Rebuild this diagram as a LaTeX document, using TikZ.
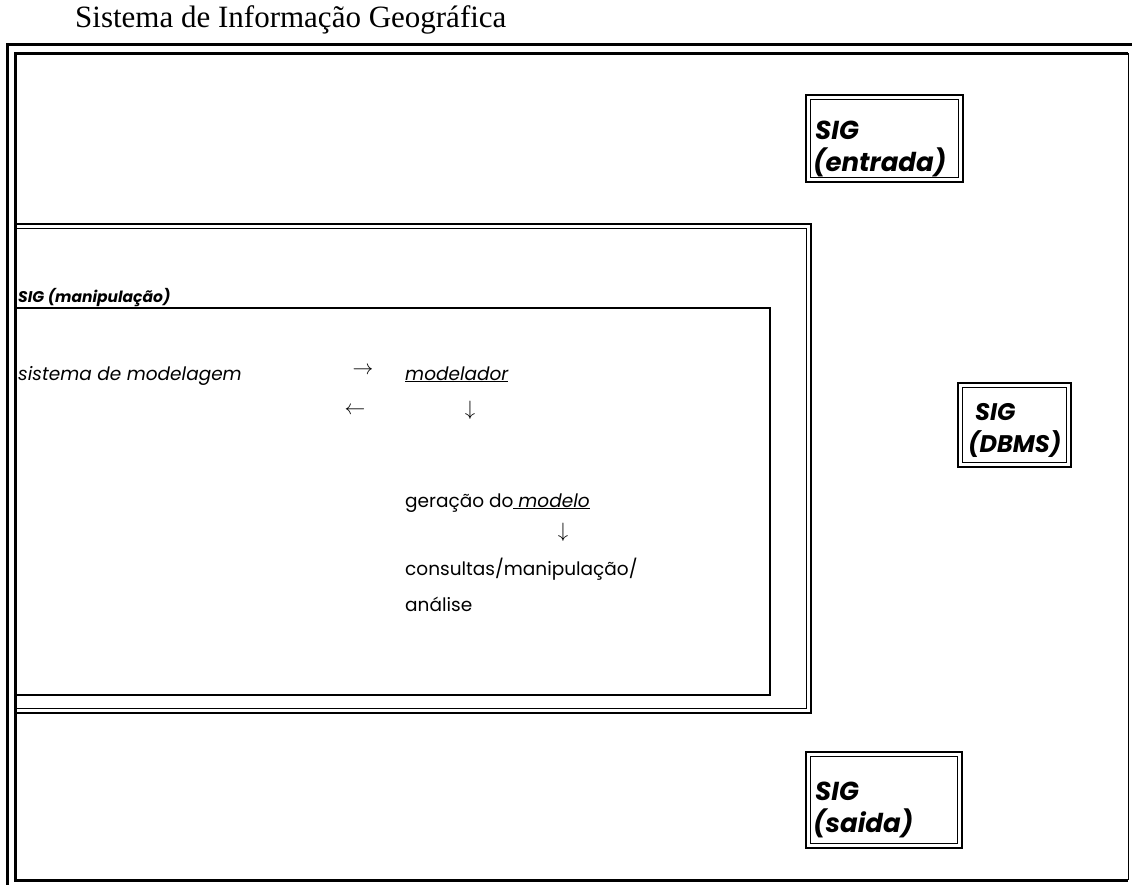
\documentclass[tikz,border=0pt]{standalone}
\usepackage{fontspec}
\setmainfont{Liberation Serif}
\setsansfont{Poppins}
\begin{document}
\begin{tikzpicture}[x=1pt,y=-1pt,
  txt/.style={inner sep=0pt,anchor=base west,font=\sffamily\fontsize{18.5}{22}\selectfont},
  itxt/.style={txt,font=\sffamily\itshape\fontsize{18.5}{22}\selectfont},
  lbl/.style={inner sep=0pt,anchor=base west,font=\sffamily\bfseries\itshape\fontsize{15.5}{18}\selectfont},
  boxlbl/.style={inner sep=0pt,anchor=base west,font=\sffamily\bfseries\itshape\fontsize{26}{30}\selectfont},
  arr/.style={inner sep=0pt,anchor=center,font=\fontsize{22}{26}\selectfont},
  thickline/.style={line width=3pt},
  outerline/.style={line width=2pt},
  innerline/.style={line width=1pt},
]
\useasboundingbox (0,0) rectangle (1132,885);

% title
\node[inner sep=0pt,anchor=base west,font=\fontsize{31}{36}\selectfont] (title) at (75,28) {Sistema de Informação Geográfica};

% outer double frame
\draw[thickline] (7.5,885) -- (7.5,45) -- (1132,45);
\draw[thickline] (1128,53.5) -- (15,53.5) -- (15,880) -- (1128,880);
\draw[line width=1.5pt] (1128.5,53.5) -- (1128.5,880);

% manipulation block: double frame
\draw[outerline] (15,224) -- (811,224) -- (811,713) -- (15,713);
\draw[innerline] (15,229) -- (806,229) -- (806,708) -- (15,708);
\node[lbl] (manip) at (18,302) {SIG (manipulação)};

% modelling system box
\draw[line width=1.5pt] (15,308) -- (770,308) -- (770,695) -- (15,695);

\node[itxt] (sismod) at (18,380) {sistema de modelagem};
\node[arr] (a1) at (363,371) {$\rightarrow$};
\node[itxt] (modelador) at (405,380) {\underline{modelador}};
\node[arr] (a2) at (355,411) {$\leftarrow$};
\node[arr] (a3) at (470,410) {$\downarrow$};
\node[txt] (geracao) at (405,507) {geração do\underline{ \textit{modelo}}};
\node[arr] (a4) at (563,532) {$\downarrow$};
\node[txt] (consultas) at (405,575) {consultas/manipulação/};
\node[txt] (analise) at (405,611) {análise};

% input, DBMS and output boxes
\draw[outerline] (806,95) rectangle (963,182);
\draw[innerline] (810.5,99.5) rectangle (958.5,177.5);
\node[boxlbl] (e1) at (815,140) {SIG};
\node[boxlbl] (e2) at (813,172) {(entrada)};

\draw[outerline] (958,383) rectangle (1071,467);
\draw[innerline] (962.5,387.5) rectangle (1066.5,462.5);
\node[boxlbl,font=\sffamily\bfseries\itshape\fontsize{24}{28}\selectfont] (d1) at (975,420) {SIG};
\node[boxlbl,font=\sffamily\bfseries\itshape\fontsize{24}{28}\selectfont] (d2) at (968,452) {(DBMS)};

\draw[outerline] (806,752) rectangle (962,848);
\draw[innerline] (810.5,756.5) rectangle (957.5,843.5);
\node[boxlbl] (s1) at (815,800) {SIG};
\node[boxlbl] (s2) at (813,832) {(saida)};
\end{tikzpicture}
\end{document}
